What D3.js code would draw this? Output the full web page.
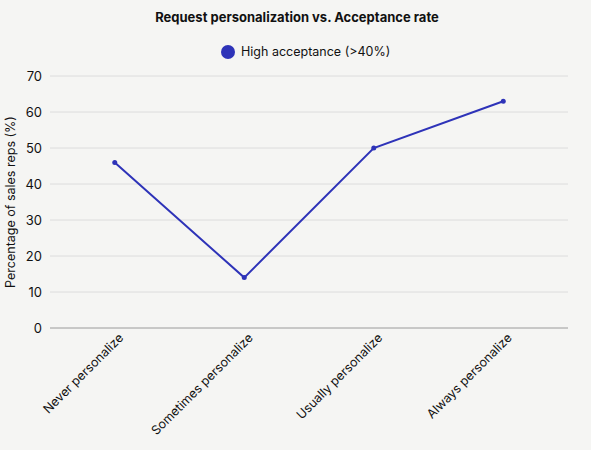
<!DOCTYPE html>
<html>
<head>
<meta charset="utf-8">
<script src="https://cdn.jsdelivr.net/npm/d3@7"></script>
<style>
  html, body { margin: 0; padding: 0; background: #f5f5f3; }
  #chart text { font-family: Inter, "Liberation Sans", sans-serif; fill: #111; }
</style>
</head>
<body>
<div id="chart"></div>
<script>
// chart data
const categories = ["Never personalize", "Sometimes personalize", "Usually personalize", "Always personalize"];
const highAcceptance = [46, 14, 50, 63];
const yTicks = [0, 10, 20, 30, 40, 50, 60, 70];
const seriesName = "High acceptance (>40%)";

const W = 591, H = 450;
const margin = {top: 76, right: 23, bottom: 122, left: 50};
const width = W - margin.left - margin.right,
      height = H - margin.top - margin.bottom;
const color = "#2e33b8";

const svg = d3.select("#chart").append("svg")
    .attr("width", W)
    .attr("height", H);

svg.append("rect").attr("width", W).attr("height", H).attr("fill", "#f5f5f3");

// title
svg.append("text")
    .attr("x", 297)
    .attr("y", 22)
    .attr("text-anchor", "middle")
    .style("font-size", "13px")
    .style("font-weight", "bold")
    .text("Request personalization vs. Acceptance rate");

// legend
const legend = svg.append("g").attr("transform", "translate(228,52)");
legend.append("circle").attr("r", 7).attr("fill", color);
legend.append("text")
    .attr("x", 13)
    .attr("dy", "0.35em")
    .style("font-size", "12.5px")
    .text(seriesName);

const g = svg.append("g")
    .attr("transform", "translate(" + margin.left + "," + margin.top + ")");

const x = d3.scalePoint().domain(categories).range([0, width]).padding(0.5);
const y = d3.scaleLinear().domain([0, 70]).range([height, 0]);

// grid lines
g.selectAll(".grid")
  .data(yTicks)
  .enter().append("line")
    .attr("x1", 0)
    .attr("x2", width)
    .attr("y1", d => y(d))
    .attr("y2", d => y(d))
    .attr("stroke", d => d === 0 ? "#9a9a9a" : "#dcdcdc")
    .attr("stroke-width", 1);

// y axis
const yAxis = g.append("g")
    .call(d3.axisLeft(y).tickValues(yTicks).tickSize(0).tickPadding(8));
yAxis.select(".domain").remove();
yAxis.selectAll("text").style("font-size", "13px").attr("fill", "#111");

// x axis
const xAxis = g.append("g")
    .attr("transform", "translate(0," + height + ")")
    .call(d3.axisBottom(x).tickSize(0).tickPadding(10));
xAxis.select(".domain").remove();
xAxis.selectAll("text")
    .style("font-size", "12.5px")
    .attr("fill", "#111")
    .attr("text-anchor", "end")
    .attr("dx", "-0.1em")
    .attr("dy", "0.3em")
    .attr("transform", "rotate(-45)");

// y axis title
svg.append("text")
    .attr("transform", "rotate(-90)")
    .attr("x", -(margin.top + height / 2))
    .attr("y", 15)
    .attr("text-anchor", "middle")
    .style("font-size", "12.5px")
    .text("Percentage of sales reps (%)");

// line
const line = d3.line()
    .x((d, i) => x(categories[i]))
    .y(d => y(d));

g.append("path")
    .datum(highAcceptance)
    .attr("fill", "none")
    .attr("stroke", color)
    .attr("stroke-width", 2)
    .attr("d", line);

g.selectAll(".dot")
  .data(highAcceptance)
  .enter().append("circle")
    .attr("cx", (d, i) => x(categories[i]))
    .attr("cy", d => y(d))
    .attr("r", 2.5)
    .attr("fill", color);
</script>
</body>
</html>
